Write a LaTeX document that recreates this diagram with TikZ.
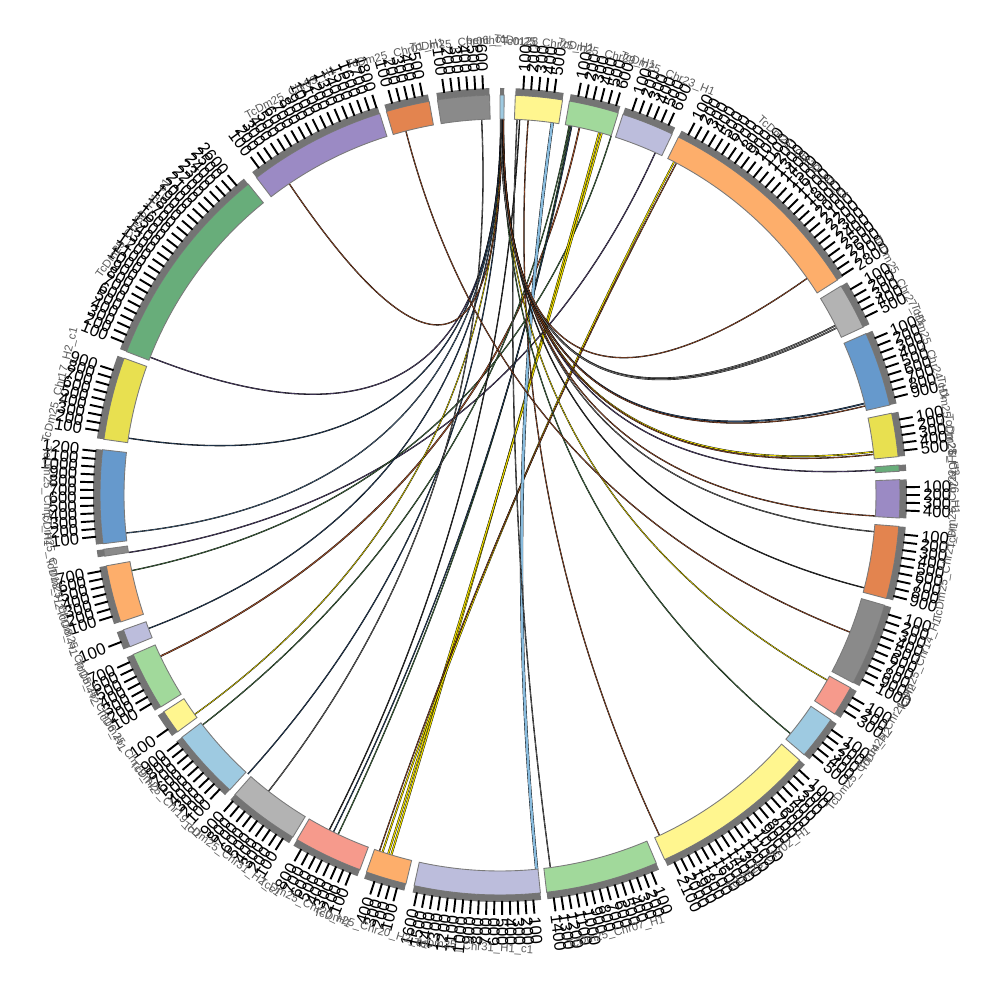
\documentclass[tikz,border=0pt]{standalone}
\usepackage{fontspec}
\setmainfont{Liberation Sans}
\usepackage{xcolor}
\usepackage{tikz}
\definecolor{lblue}{HTML}{9ECAE1}
\definecolor{lyellow}{HTML}{FFF68F}
\definecolor{lgreen}{HTML}{A1D99B}
\definecolor{lavender}{HTML}{BCBDDC}
\definecolor{lorange}{HTML}{FDAE6B}
\definecolor{lgrey}{HTML}{B3B3B3}
\definecolor{blue}{HTML}{6699CC}
\definecolor{yellow}{HTML}{E8E050}
\definecolor{green}{HTML}{68AD7A}
\definecolor{purple}{HTML}{9B8AC4}
\definecolor{orange}{HTML}{E3844F}
\definecolor{dgrey}{HTML}{8A8A8A}
\definecolor{salmon}{HTML}{F69A8C}
\definecolor{bandgrey}{HTML}{747474}
\definecolor{sectline}{HTML}{7A7A7A}
\definecolor{namegrey}{HTML}{5A5A5A}
\definecolor{lkpurple}{HTML}{5A4A7A}
\definecolor{lkblue}{HTML}{2E4A6B}
\definecolor{lksteel}{HTML}{4A6A88}
\definecolor{lkgreen}{HTML}{4A7A4A}
\definecolor{lkbrown}{HTML}{A0522D}
\definecolor{lkyellow}{HTML}{E8D800}
\definecolor{lkgrey}{HTML}{707070}
\definecolor{lkdark}{HTML}{333333}
\definecolor{lklblue}{HTML}{88BBDD}
\tikzset{
  sector/.style={draw=sectline, line width=0.5pt},
  link/.style={draw=black, line width=0.22pt, double=#1},
  ticklabel/.style={inner sep=0pt, font=\fontsize{9.5}{9.5}\selectfont},
  chrname/.style={inner sep=0pt, text=namegrey, font=\fontsize{6.5}{6.5}\selectfont}
}
\newcommand{\lnk}[4][0.3pt]{\draw[link=#4, double distance=#1] (90-#2:376) .. controls (90-#2:125) and (90-#3:125) .. (90-#3:376);}

\begin{document}
\begin{tikzpicture}[x=0.2mm,y=0.2mm]
\useasboundingbox (-500,-505) rectangle (500,495);
% links
\lnk{0.10}{291.5}{lkpurple}
\lnk{0.15}{278.7}{lkblue}
\lnk{0.20}{264.2}{lksteel}
\lnk{24.4}{261.2}{lkpurple}
\lnk{17.2}{258.4}{lkgreen}
\lnk{0.25}{249.2}{lkblue}
\lnk[0.5pt]{12.2}{244.6}{lkbrown}
\lnk{0.30}{234.3}{lkyellow}
\lnk{10.6}{232.3}{lkgreen}
\lnk{0.35}{222.1}{lkblue}
\lnk{357.2}{218}{lkgrey}
\lnk{10.8}{205.5}{lkgreen}
\lnk{11.0}{206.3}{lkblue}
\lnk{3.0}{207}{lkdark}
\lnk[0.7pt]{15.3}{196.8}{lkyellow}
\lnk[0.7pt]{15.7}{197.3}{lkyellow}
\lnk[0.6pt]{27.6}{198.2}{lkyellow}
\lnk{28.0}{198.7}{lkbrown}
\lnk[1.4pt]{8.0}{174.4}{lklblue}
\lnk{2.6}{172.3}{lkgrey}
\lnk{4.3}{154.9}{lkbrown}
\lnk{325.9}{0.3}{lkbrown}
\lnk{0.40}{129.4}{lkgreen}
\lnk{0.45}{119.5}{lkyellow}
\lnk{345.5}{111.4}{lkbrown}
\lnk{0.50}{104.3}{lkdark}
\lnk{0.52}{95.6}{lkgrey}
\lnk{0.48}{93.2}{lkbrown}
\lnk{0.42}{86.2}{lkpurple}
\lnk[0.5pt]{0.38}{83.4}{lkyellow}
\lnk{0.33}{83.8}{lkbrown}
\lnk[0.5pt]{0.28}{75.9}{lkblue}
\lnk{0.23}{76.3}{lkbrown}
\lnk[0.5pt]{0.18}{63.2}{lkgrey}
\lnk[0.5pt]{0.13}{63.6}{lkgrey}
\lnk{0.55}{54.8}{lkbrown}
% sectors, ticks and names
\foreach \ta/\tb/\col/\nt/\nm in {
  0/0.6/lblue/0/benth\_Tc0128,
  2.2/9.0/lyellow/5/TcDm25\_Chr25\_H1,
  10/17.2/lgreen/6/TcDm25\_Chr29\_H1,
  17.9/25.5/lavender/6/TcDm25\_Chr23\_H1,
  26.5/57.5/lorange/28/TcDm25\_Chr30\_H2\_c1,
  58.5/65.2/lgrey/5/TcDm25\_Chr27\_H1,
  66.2/77/blue/9/TcDm25\_Chr24\_H1,
  78.2/84.5/yellow/5/TcDm25\_Chr28\_H2,
  85.7/86.6/green/0/TcDm25\_Chr26\_H1,
  87.8/93.3/purple/4/TcDm25\_Chr22\_H1,
  94.5/105/orange/9/TcDm25\_Chr21\_H1,
  106/118/dgrey/10/TcDm25\_Chr14\_H1,
  118.8/123.2/salmon/3/TcDm25\_Chr21\_H2,
  124.2/130.5/lblue/5/TcDm25\_Chr04\_H2,
  131.5/155.7/lyellow/21/TcDm25\_Chr02\_H1,
  157/173.3/lgreen/14/TcDm25\_Chr07\_H1,
  174.2/192.4/lavender/16/TcDm25\_Chr31\_H1\_c1,
  193.6/199.5/lorange/4/TcDm25\_Chr20\_H2\_c1,
  200.5/210.5/salmon/8/TcDm25\_Chr20\_H1,
  211.2/221.5/lgrey/9/TcDm25\_Chr31\_H2\_c1,
  222.5/232.7/lblue/9/TcDm25\_Chr19\_H1,
  233.7/237.2/lyellow/1/TcDm25\_Chr19\_H2,
  238/246.5/lgreen/7/TcDm25\_Chr16\_H1,
  247.7/250.3/lavender/1/TcDm25\_Chr15\_H2,
  251.5/259.8/lorange/7/TcDm25\_Chr18\_H1,
  261.2/262.2/dgrey/0/TcDm25\_Chr18\_H2,
  263/276.5/blue/12/TcDm25\_Chr17\_H1,
  278/290/yellow/9/TcDm25\_Chr17\_H2\_c1,
  291/321/green/26/TcDm25\_Chr30\_H1\_c1,
  322.5/342.5/purple/18/TcDm25\_Chr03\_H1,
  343.5/349.8/orange/5/TcDm25\_Chr01\_H1,
  351/358.5/dgrey/6/TcDm25\_Chr06\_c1}{
  \pgfmathsetmacro{\aa}{90-\ta}
  \pgfmathsetmacro{\ab}{90-\tb}
  \pgfmathsetmacro{\tm}{(\ta+\tb)/2}
  \pgfmathsetmacro{\am}{90-\tm}
  \draw[sector, fill=\col] (\aa:376) arc[start angle=\aa, end angle=\ab, radius=376]
    -- (\ab:400) arc[start angle=\ab, end angle=\aa, radius=400] -- cycle;
  \fill[bandgrey] (\aa:400) arc[start angle=\aa, end angle=\ab, radius=400]
    -- (\ab:407) arc[start angle=\ab, end angle=\aa, radius=407] -- cycle;
  \ifnum\nt>0
    \foreach \k in {1,...,\nt}{
      \pgfmathsetmacro{\tk}{\ta+1.1*\k}
      \pgfmathsetmacro{\ak}{90-\tk}
      \draw[line width=1.1pt] (\ak:406) -- (\ak:420);
      \ifdim\tk pt<180pt
        \node[ticklabel, anchor=west, rotate=\ak] at (\ak:423) {\k00};
      \else
        \pgfmathsetmacro{\rk}{\ak+180}
        \node[ticklabel, anchor=east, rotate=\rk] at (\ak:423) {\k00};
      \fi
    }
  \fi
  \pgfmathsetmacro{\rn}{\am-90+180*and(\tm>90,\tm<270)}
  \node[chrname, rotate=\rn] at (\am:453) {\nm};
}
\end{tikzpicture}
\end{document}
